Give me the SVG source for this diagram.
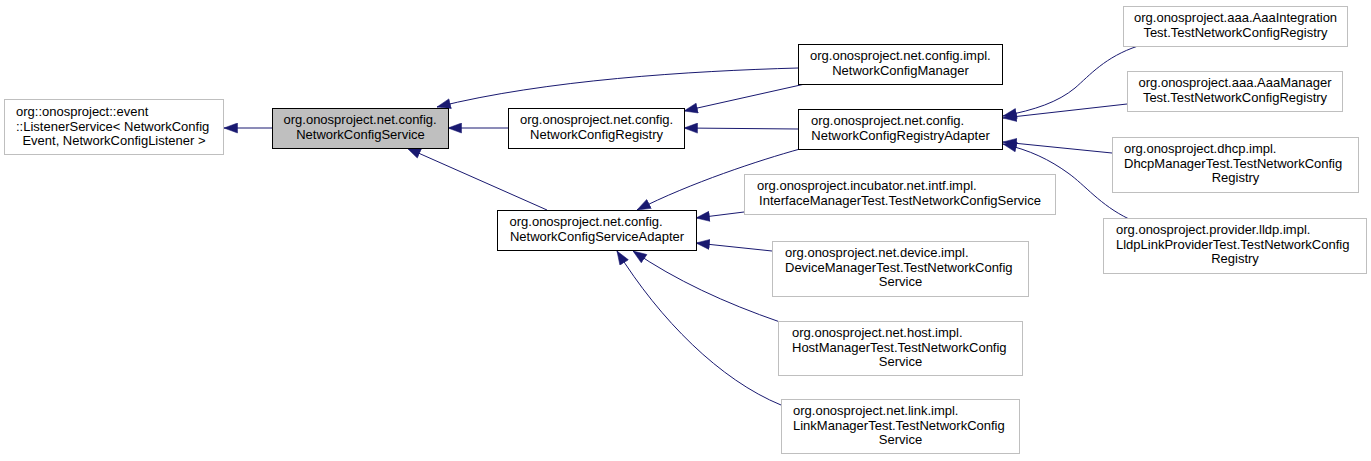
<svg xmlns="http://www.w3.org/2000/svg" width="1371" height="461" viewBox="0 0 1371 461">
<style>
  .n rect { fill: #ffffff; stroke: #bfbfbf; stroke-width: 1; }
  .d rect { stroke: #000000; }
  .g rect { fill: #bfbfbf; }
  text { font-family: "Liberation Sans", Arial, Helvetica, sans-serif; font-size: 13px; fill: #000000; }
  .m { text-anchor: middle; }
  .e path { fill: none; stroke: #191970; stroke-width: 1; marker-end: url(#arr); }
</style>
<defs>
  <marker id="arr" markerUnits="userSpaceOnUse" markerWidth="14" markerHeight="11" viewBox="0 0 14 11" refX="14" refY="5.5" orient="auto">
    <path d="M0.5,0.5 L14,5.5 L0.5,10.5 z" fill="#191970" stroke="#191970" stroke-width="0.5"/>
  </marker>
</defs>
<rect width="1371" height="461" fill="#ffffff"/>

<g id="edges" class="e">
  <path d="M272,128 L224,128"/>
  <path d="M508,128 L448,128"/>
  <path d="M798,68 C690,71 545,80 437,107"/>
  <path d="M805,84 L684,111"/>
  <path d="M798,129 L684,128"/>
  <path d="M800,149 C760,160 690,183 637,210"/>
  <path d="M547,210 L407,148"/>
  <path d="M744,212 L696,218"/>
  <path d="M772,251 L696,243"/>
  <path d="M780,322 C725,303 675,280 633,251"/>
  <path d="M781,405 C720,380 660,320 617,251"/>
  <path d="M1138,46 C1105,57 1090,75 1075,88 C1058,102 1035,110 1003,116"/>
  <path d="M1127,104 L1003,118"/>
  <path d="M1112,153 L1003,142"/>
  <path d="M1129,219 C1100,205 1085,185 1068,173 C1050,160 1030,150 1003,144"/>
</g>

<g id="listenerService" class="n">
  <rect x="4.5" y="99.5" width="219" height="55"/>
  <text x="16" y="116">org::onosproject::event</text>
  <text x="16" y="130.5">::ListenerService&lt; NetworkConfig</text>
  <text class="m" x="114" y="145">Event, NetworkConfigListener &gt;</text>
</g>

<g id="networkConfigService" class="n d g">
  <rect x="272.5" y="108.5" width="176" height="40"/>
  <text x="283.5" y="124">org.onosproject.net.config.</text>
  <text class="m" x="360.5" y="138.5">NetworkConfigService</text>
</g>

<g id="networkConfigRegistry" class="n d">
  <rect x="508.5" y="108.5" width="176" height="40"/>
  <text x="520" y="124">org.onosproject.net.config.</text>
  <text class="m" x="596.5" y="138.5">NetworkConfigRegistry</text>
</g>

<g id="networkConfigManager" class="n d">
  <rect x="798.5" y="44.5" width="204" height="40"/>
  <text x="810" y="60">org.onosproject.net.config.impl.</text>
  <text class="m" x="900.5" y="74.5">NetworkConfigManager</text>
</g>

<g id="networkConfigRegistryAdapter" class="n d">
  <rect x="798.5" y="109.5" width="204" height="40"/>
  <text x="811" y="125">org.onosproject.net.config.</text>
  <text class="m" x="900.5" y="139.5">NetworkConfigRegistryAdapter</text>
</g>

<g id="networkConfigServiceAdapter" class="n d">
  <rect x="497.5" y="210.5" width="199" height="40"/>
  <text x="509.5" y="226">org.onosproject.net.config.</text>
  <text class="m" x="597" y="240.5">NetworkConfigServiceAdapter</text>
</g>

<g id="interfaceManagerTest" class="n">
  <rect x="744.5" y="174.5" width="311" height="40"/>
  <text x="757" y="190">org.onosproject.incubator.net.intf.impl.</text>
  <text class="m" x="900" y="204.5">InterfaceManagerTest.TestNetworkConfigService</text>
</g>

<g id="deviceManagerTest" class="n">
  <rect x="772.5" y="241.5" width="256" height="55"/>
  <text x="785" y="257">org.onosproject.net.device.impl.</text>
  <text x="785" y="271.5">DeviceManagerTest.TestNetworkConfig</text>
  <text class="m" x="900.5" y="286">Service</text>
</g>

<g id="hostManagerTest" class="n">
  <rect x="778.5" y="321.5" width="244" height="54"/>
  <text x="792" y="337">org.onosproject.net.host.impl.</text>
  <text x="792" y="351.5">HostManagerTest.TestNetworkConfig</text>
  <text class="m" x="900.5" y="366">Service</text>
</g>

<g id="linkManagerTest" class="n">
  <rect x="781.5" y="399.5" width="238" height="54"/>
  <text x="793" y="415">org.onosproject.net.link.impl.</text>
  <text x="793" y="429.5">LinkManagerTest.TestNetworkConfig</text>
  <text class="m" x="900.5" y="444">Service</text>
</g>

<g id="aaaIntegrationTest" class="n">
  <rect x="1123.5" y="6.5" width="224" height="40"/>
  <text x="1134" y="22">org.onosproject.aaa.AaaIntegration</text>
  <text class="m" x="1235.5" y="36.5">Test.TestNetworkConfigRegistry</text>
</g>

<g id="aaaManagerTest" class="n">
  <rect x="1127.5" y="71.5" width="215" height="40"/>
  <text x="1138.5" y="87">org.onosproject.aaa.AaaManager</text>
  <text class="m" x="1235" y="101.5">Test.TestNetworkConfigRegistry</text>
</g>

<g id="dhcpManagerTest" class="n">
  <rect x="1112.5" y="137.5" width="246" height="55"/>
  <text x="1124" y="153">org.onosproject.dhcp.impl.</text>
  <text x="1124" y="167.5">DhcpManagerTest.TestNetworkConfig</text>
  <text class="m" x="1235.5" y="182">Registry</text>
</g>

<g id="lldpLinkProviderTest" class="n">
  <rect x="1103.5" y="218.5" width="263" height="55"/>
  <text x="1116" y="234">org.onosproject.provider.lldp.impl.</text>
  <text x="1116" y="248.5">LldpLinkProviderTest.TestNetworkConfig</text>
  <text class="m" x="1235" y="263">Registry</text>
</g>
</svg>
